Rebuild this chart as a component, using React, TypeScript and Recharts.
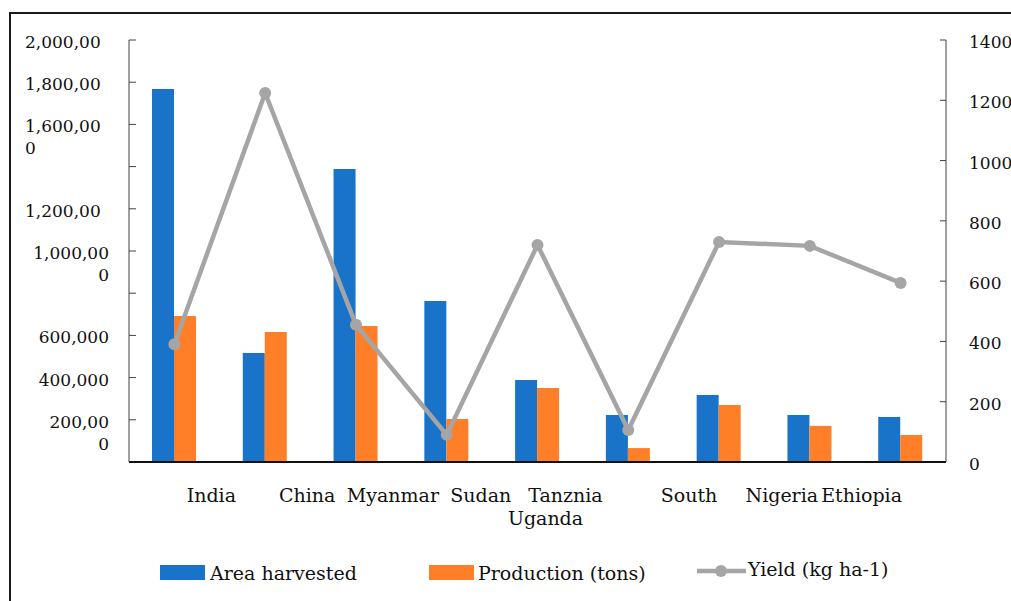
import React from 'react';
import { ComposedChart, Bar, Line, XAxis, YAxis } from 'recharts';

const countries = ['India', 'China', 'Myanmar', 'Sudan', 'Tanzania', 'Uganda', 'South Sudan', 'Nigeria', 'Ethiopia'];
const areaHarvested = [1768000, 517000, 1389000, 763000, 389000, 223000, 318000, 223000, 213000];
const production = [692000, 616000, 645000, 204000, 351000, 66000, 270000, 171000, 128000];
const yieldKgHa = [391, 1224, 455, 90, 720, 106, 730, 717, 594];

const leftTicks = [0, 200000, 400000, 600000, 800000, 1000000, 1200000, 1400000, 1600000, 1800000, 2000000];
const leftTickLabels = ['', '200,00\n0', '400,000', '600,000', '', '1,000,00\n0', '1,200,00', '', '1,600,00\n0', '1,800,00', '2,000,00'];
const rightTicks = [0, 200, 400, 600, 800, 1000, 1200, 1400];
const xTickLabels = [['India'], ['China'], ['Myanmar'], ['Sudan'], ['Tanznia', 'Uganda'], [], ['South'], ['Nigeria'], ['Ethiopia']];

// label placement quirks of the original figure (px shift from band centre)
const xLabelShift = [[37], [42], [37], [34], [28, 8], [], [-30], [-28], [-39]];

const FONT = 'DejaVu Serif';
const FS_NUM = 17;
const FS_TXT = 19;
const BLUE = '#1873C9';
const ORANGE = '#FE7F27';
const GREY = '#A5A5A5';

const data = countries.map((c, i) => ({
  country: c,
  area: areaHarvested[i],
  production: production[i],
  yield: yieldKgHa[i],
}));

const LeftTick = (props: any) => {
  const { x, y, payload } = props;
  const i = leftTicks.indexOf(payload.value);
  const lines = (leftTickLabels[i] || '').split('\n').filter(Boolean);
  const upper = payload.value >= 1200000;
  return (
    <g>
      {payload.value > 0 && <line x1={x} x2={x + 7} y1={y} y2={y} stroke="#404040" strokeWidth={1} />}
      <text fontFamily={FONT} fontSize={FS_NUM} fill="#111" textAnchor={upper ? 'start' : 'end'}>
        {lines.map((l, k) => (
          <tspan key={k} x={upper ? x - 104 : x - 20} y={y + 8 + k * 22}>
            {l}
          </tspan>
        ))}
      </text>
    </g>
  );
};

const RightTick = (props: any) => {
  const { x, y, payload } = props;
  return (
    <g>
      {payload.value > 0 && <line x1={x - 6} x2={x} y1={y} y2={y} stroke="#404040" strokeWidth={1} />}
      <text x={x + 23} y={y + 8} fontFamily={FONT} fontSize={FS_NUM} fill="#111" textAnchor="start">
        {payload.value}
      </text>
    </g>
  );
};

const BottomTick = (props: any) => {
  const { x, y, index } = props;
  const lines = xTickLabels[index] || [];
  const shifts = xLabelShift[index] || [];
  return (
    <text fontFamily={FONT} fontSize={FS_TXT} fill="#111" textAnchor="middle">
      {lines.map((l, k) => (
        <tspan key={k} x={x + (shifts[k] || 0)} y={y + 40 + k * 23}>
          {l}
        </tspan>
      ))}
    </text>
  );
};

const LegendOverlay = () => (
  <svg width={1011} height={601} style={{ position: 'absolute', left: 0, top: 0, pointerEvents: 'none' }}>
    <rect x={160} y={565} width={45} height={15} fill={BLUE} />
    <text x={210} y={580} fontFamily={FONT} fontSize={FS_TXT} fill="#111">Area harvested</text>
    <rect x={429} y={565} width={45} height={15} fill={ORANGE} />
    <text x={478} y={580} fontFamily={FONT} fontSize={FS_TXT} fill="#111">Production (tons)</text>
    <line x1={697} x2={746} y1={571} y2={571} stroke={GREY} strokeWidth={4.5} />
    <circle cx={721} cy={571} r={6} fill={GREY} />
    <text x={748} y={576} fontFamily={FONT} fontSize={FS_TXT} fill="#111">Yield (kg ha-1)</text>
  </svg>
);

export default function App() {
  return (
    <div style={{ position: 'absolute', left: 0, top: 0, width: 1011, height: 601, overflow: 'hidden', background: '#fff' }}>
      <div
        style={{
          position: 'absolute',
          left: 9,
          top: 12,
          width: 1100,
          height: 700,
          borderTop: '2px solid #1a1a1a',
          borderLeft: '2px solid #1a1a1a',
        }}
      />
      <ComposedChart
        width={1011}
        height={601}
        data={data}
        margin={{ top: 40, right: 0, left: 0, bottom: 0 }}
        barGap={0}
        style={{ position: 'absolute', left: 0, top: 0 }}
      >
        <XAxis
          dataKey="country"
          height={139}
          interval={0}
          tickLine={false}
          tickSize={0}
          tickMargin={0}
          axisLine={{ stroke: '#111', strokeWidth: 2 }}
          tick={<BottomTick />}
        />
        <YAxis
          yAxisId="left"
          orientation="left"
          width={129}
          domain={[0, 2000000]}
          ticks={leftTicks}
          interval={0}
          tickLine={false}
          tickSize={0}
          tickMargin={0}
          axisLine={{ stroke: '#404040', strokeWidth: 1 }}
          tick={<LeftTick />}
        />
        <YAxis
          yAxisId="right"
          orientation="right"
          width={65}
          domain={[0, 1400]}
          ticks={rightTicks}
          interval={0}
          tickLine={false}
          tickSize={0}
          tickMargin={0}
          axisLine={{ stroke: '#404040', strokeWidth: 1 }}
          tick={<RightTick />}
        />
        <Bar yAxisId="left" dataKey="area" name="Area harvested" fill={BLUE} barSize={22} isAnimationActive={false} />
        <Bar yAxisId="left" dataKey="production" name="Production (tons)" fill={ORANGE} barSize={22} isAnimationActive={false} />
        <Line
          yAxisId="right"
          dataKey="yield"
          name="Yield (kg ha-1)"
          type="linear"
          stroke={GREY}
          strokeWidth={4.5}
          dot={{ r: 6, fill: GREY, stroke: 'none' }}
          activeDot={false}
          isAnimationActive={false}
        />
      </ComposedChart>
      <LegendOverlay />
    </div>
  );
}
